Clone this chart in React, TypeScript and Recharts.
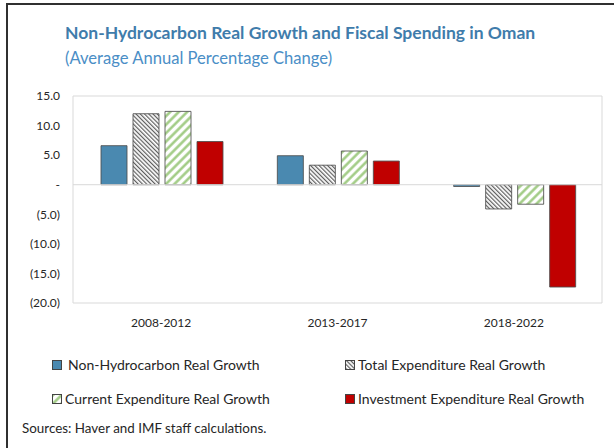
import { BarChart, Bar, XAxis, YAxis, ReferenceArea, ReferenceLine } from 'recharts';

const periods = ['2008-2012', '2013-2017', '2018-2022'];
const nonHydrocarbon = [6.6, 4.9, -0.3];
const totalExpenditure = [12.0, 3.3, -4.1];
const currentExpenditure = [12.4, 5.7, -3.3];
const investmentExpenditure = [7.3, 4.0, -17.3];
const yTicks = [15, 10, 5, 0, -5, -10, -15, -20];

const series = [
  { key: 'nonHydro', name: 'Non-Hydrocarbon Real Growth', fill: '#4a89b0' },
  { key: 'total', name: 'Total Expenditure Real Growth', fill: 'url(#hatchGray)' },
  { key: 'current', name: 'Current Expenditure Real Growth', fill: 'url(#hatchGreen)' },
  { key: 'invest', name: 'Investment Expenditure Real Growth', fill: '#c00000' },
];

const data = periods.map((p, i) => ({
  period: p,
  nonHydro: nonHydrocarbon[i],
  total: totalExpenditure[i],
  current: currentExpenditure[i],
  invest: investmentExpenditure[i],
}));

const FONT = 'Lato, "Open Sans", sans-serif';

const fmtTick = (v: number) => {
  if (v === 0) return '-';
  if (v < 0) return `(${Math.abs(v).toFixed(1)})`;
  return v.toFixed(1);
};

function Patterns() {
  return (
    <svg width={0} height={0} style={{ position: 'absolute' }}>
      <defs>
        <pattern id="hatchGray" patternUnits="userSpaceOnUse" width={3} height={3} patternTransform="rotate(-45)">
          <rect width={3} height={3} fill="#ffffff" />
          <line x1={0.6} y1={0} x2={0.6} y2={3} stroke="#5e5e5e" strokeWidth={1.2} />
        </pattern>
        <pattern id="hatchGreen" patternUnits="userSpaceOnUse" width={6} height={6} patternTransform="rotate(45)">
          <rect width={6} height={6} fill="#ffffff" />
          <line x1={1.5} y1={0} x2={1.5} y2={6} stroke="#9cc97e" strokeWidth={2.4} />
        </pattern>
      </defs>
    </svg>
  );
}

function LegendBox() {
  const item = (s: typeof series[number], x: number, y: number, gap: number) => (
    <div key={s.key} style={{ position: 'absolute', left: x, top: y, display: 'flex', alignItems: 'center', whiteSpace: 'nowrap' }}>
      <svg width={10} height={10} style={{ marginRight: gap }}>
        <rect x={0.5} y={0.5} width={9} height={9} fill={s.fill} stroke="#444" strokeWidth={1} />
      </svg>
      <span>{s.name}</span>
    </div>
  );
  return (
    <div style={{ position: 'absolute', left: 0, top: 356, width: 614, height: 90, fontFamily: FONT, fontSize: 14, color: '#262626' }}>
      {item(series[0], 52, 0, 6)}
      {item(series[1], 345, 0, 3)}
      {item(series[2], 52, 34, 3)}
      {item(series[3], 345, 34, 3)}
      <div style={{ position: 'absolute', left: 22, top: 64, fontSize: 13.4 }}>Sources: Haver and IMF staff calculations.</div>
    </div>
  );
}

export default function App() {
  return (
    <div style={{ position: 'absolute', left: 0, top: 0, width: 614, height: 448, background: '#fff', overflow: 'hidden' }}>
      <Patterns />
      <div style={{ position: 'absolute', left: 6, top: 3, width: 620, height: 460, borderLeft: '2px solid #303030', borderTop: '2px solid #303030' }} />
      <div style={{ position: 'absolute', left: 65, top: 22, fontFamily: FONT, fontWeight: 700, fontSize: 17.5, color: '#3f7cab', whiteSpace: 'nowrap' }}>
        Non-Hydrocarbon Real Growth and Fiscal Spending in Oman
      </div>
      <div style={{ position: 'absolute', left: 65, top: 48, fontFamily: FONT, fontSize: 16.6, color: '#4a8ec6', whiteSpace: 'nowrap' }}>
        (Average Annual Percentage Change)
      </div>
      <div style={{ position: 'absolute', left: 0, top: 0 }}>
        <BarChart
          width={614}
          height={448}
          data={data}
          margin={{ top: 96, right: 12, bottom: 115, left: 13 }}
          barCategoryGap={28}
          barGap={6}
        >
          <ReferenceArea y1={-20} y2={15} fill="none" stroke="#d9d9d9" strokeWidth={1} />
          <ReferenceLine y={0} stroke="#d9d9d9" strokeWidth={1} />
          <XAxis
            dataKey="period"
            height={30}
            axisLine={false}
            tickLine={false}
            tickSize={0}
            tickMargin={15}
            tick={{ fontSize: 12, fill: '#262626', fontFamily: FONT }}
          />
          <YAxis
            domain={[-20, 15]}
            ticks={yTicks}
            interval={0}
            width={60}
            axisLine={false}
            tickLine={false}
            tickSize={0}
            tickMargin={13}
            tickFormatter={fmtTick}
            tick={{ fontSize: 12, fill: '#262626', fontFamily: FONT }}
          />
          {series.map((s) => (
            <Bar
              key={s.key}
              dataKey={s.key}
              name={s.name}
              fill={s.fill}
              stroke="#4d4d4d"
              strokeOpacity={0.85}
              strokeWidth={1}
              isAnimationActive={false}
            />
          ))}
        </BarChart>
      </div>
      <LegendBox />
    </div>
  );
}
